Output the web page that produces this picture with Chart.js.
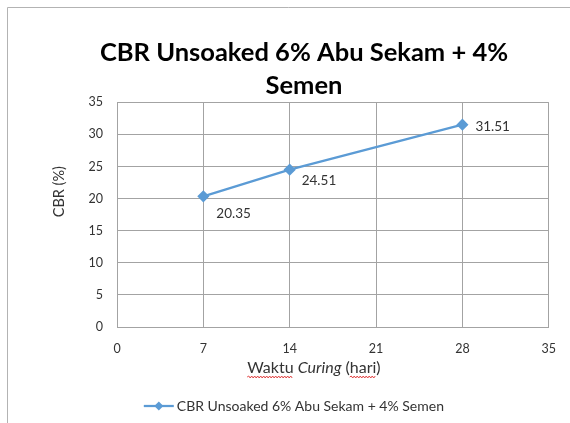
<!DOCTYPE html>
<html>
<head>
<meta charset="utf-8">
<script src="https://cdn.jsdelivr.net/npm/chart.js@4.4.1/dist/chart.umd.min.js"></script>
<style>
  body { margin: 0; background: #fff; }
  canvas { display: block; }
</style>
</head>
<body>
<canvas id="myChart" width="570" height="423"></canvas>
<script>
// data
var days = [7, 14, 28];
var cbrValues = [20.35, 24.51, 31.51];
var seriesName = "CBR Unsoaked 6% Abu Sekam + 4% Semen";
var titleLines = ["CBR Unsoaked 6% Abu Sekam + 4%", "Semen"];
var yTitle = "CBR (%)";
var xTitleParts = [
  { text: "Waktu", italic: false, squiggle: true },
  { text: " ", italic: false },
  { text: "Curing", italic: true },
  { text: " (", italic: false },
  { text: "hari", italic: false, squiggle: true },
  { text: ")", italic: false }
];

var lineColor = "#5B9BD5";
var gridColor = "#a3a3a3";
var textColor = "#333333";
var fontName = "Lato";

// label offsets (px) from each point, as moved in the original
var labelOffsets = [[13, 17], [12, 11], [13, 2]];

var points = days.map(function (d, i) { return { x: d, y: cbrValues[i] }; });

function squiggle(ctx, x0, x1, y) {
  ctx.save();
  ctx.strokeStyle = "#e04040";
  ctx.lineWidth = 1;
  ctx.beginPath();
  var up = true;
  ctx.moveTo(x0, y);
  for (var x = x0 + 1.5; x <= x1; x += 1.5) {
    ctx.lineTo(x, up ? y - 1 : y + 1);
    up = !up;
  }
  ctx.stroke();
  ctx.restore();
}

var extras = {
  id: "extras",
  afterDraw: function (chart) {
    var ctx = chart.ctx;
    var area = chart.chartArea;
    var xs = chart.scales.x, ys = chart.scales.y;

    // outer frame (only top/left visible in the crop)
    ctx.save();
    ctx.strokeStyle = "#b3b3b3";
    ctx.lineWidth = 1;
    ctx.beginPath();
    ctx.moveTo(7.5, chart.height);
    ctx.lineTo(7.5, 7.5);
    ctx.lineTo(chart.width, 7.5);
    ctx.stroke();
    ctx.restore();

    // data labels
    ctx.save();
    ctx.font = "13.5px " + fontName;
    ctx.fillStyle = textColor;
    ctx.textAlign = "left";
    ctx.textBaseline = "middle";
    points.forEach(function (p, i) {
      var px = xs.getPixelForValue(p.x);
      var py = ys.getPixelForValue(p.y);
      ctx.fillText(p.y.toFixed(2), px + labelOffsets[i][0], py + labelOffsets[i][1]);
    });
    ctx.restore();

    // y axis title
    ctx.save();
    ctx.font = "14.5px " + fontName;
    ctx.fillStyle = textColor;
    ctx.textAlign = "center";
    ctx.textBaseline = "middle";
    ctx.translate(59, (area.top + area.bottom) / 2 - 23);
    ctx.rotate(-Math.PI / 2);
    ctx.fillText(yTitle, 0, 0);
    ctx.restore();

    // x axis title, mixed upright / italic
    ctx.save();
    ctx.fillStyle = textColor;
    ctx.textBaseline = "middle";
    var total = 0;
    xTitleParts.forEach(function (part) {
      ctx.font = (part.italic ? "italic " : "") + "16px " + fontName;
      part.w = ctx.measureText(part.text).width;
      total += part.w;
    });
    var cx = (area.left + area.right) / 2 - 19;
    var tx = cx - total / 2;
    var ty = area.bottom + 41;
    xTitleParts.forEach(function (part) {
      ctx.font = (part.italic ? "italic " : "") + "16px " + fontName;
      ctx.fillText(part.text, tx, ty);
      if (part.squiggle) squiggle(ctx, tx, tx + part.w, ty + 9);
      tx += part.w;
    });
    ctx.restore();

    // legend: line with diamond marker + text
    ctx.save();
    ctx.font = "14px " + fontName;
    var legW = 30 + 3 + ctx.measureText(seriesName).width;
    var lx = (area.left + area.right) / 2 - 39 - legW / 2;
    var ly = area.bottom + 79;
    ctx.strokeStyle = lineColor;
    ctx.lineWidth = 2.25;
    ctx.beginPath();
    ctx.moveTo(lx, ly);
    ctx.lineTo(lx + 30, ly);
    ctx.stroke();
    ctx.fillStyle = lineColor;
    ctx.beginPath();
    ctx.moveTo(lx + 15, ly - 4.5);
    ctx.lineTo(lx + 19.5, ly);
    ctx.lineTo(lx + 15, ly + 4.5);
    ctx.lineTo(lx + 10.5, ly);
    ctx.closePath();
    ctx.fill();
    ctx.fillStyle = textColor;
    ctx.textBaseline = "middle";
    ctx.fillText(seriesName, lx + 33, ly);
    ctx.restore();
  }
};

new Chart("myChart", {
  type: "scatter",
  data: {
    datasets: [{
      label: seriesName,
      data: points,
      showLine: true,
      borderColor: lineColor,
      backgroundColor: lineColor,
      borderWidth: 2.25,
      pointStyle: "rectRot",
      pointRadius: 4.5,
      pointHoverRadius: 4.5
    }]
  },
  options: {
    responsive: false,
    animation: false,
    layout: { padding: { left: 56, right: 18, top: 0, bottom: 36 } },
    plugins: {
      legend: { display: false },
      tooltip: { enabled: false },
      title: {
        display: true,
        text: titleLines,
        color: "#000",
        font: { family: fontName, size: 25.5, weight: "bold", lineHeight: 1.3 },
        padding: { top: 36, bottom: 0 }
      }
    },
    scales: {
      x: {
        type: "linear",
        min: 0, max: 35,
        grid: { color: gridColor, drawTicks: false },
        border: { color: gridColor },
        ticks: { stepSize: 7, padding: 14, color: textColor, font: { family: fontName, size: 12.5 } },
        afterFit: function (scale) { scale.height = 60; }
      },
      y: {
        min: 0, max: 35,
        grid: { color: gridColor, drawTicks: false },
        border: { color: gridColor },
        ticks: { stepSize: 5, padding: 14, color: textColor, font: { family: fontName, size: 12.5 } },
        afterFit: function (scale) { scale.width = 61; }
      }
    }
  },
  plugins: [extras]
});
</script>
</body>
</html>
